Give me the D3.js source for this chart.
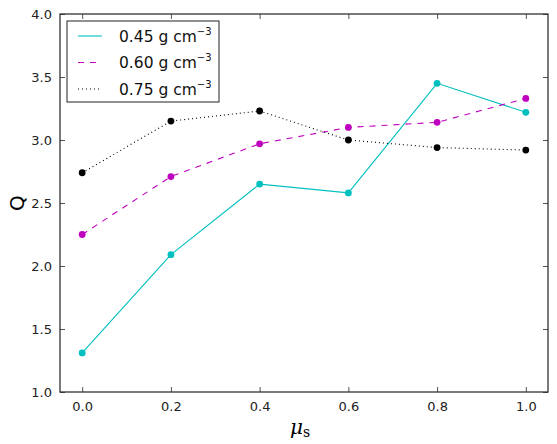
<!DOCTYPE html>
<html>
<head>
<meta charset="utf-8">
<script src="https://cdn.jsdelivr.net/npm/d3@7"></script>
<style>
  body { margin: 0; background: #fff; }
  text { font-family: "DejaVu Sans", sans-serif; }
</style>
</head>
<body>
<svg id="chart" width="557" height="444"></svg>
<script>
// data
const mu = [0.0, 0.2, 0.4, 0.6, 0.8, 1.0]
const q045 = [1.31, 2.09, 2.65, 2.58, 3.45, 3.22]
const q060 = [2.25, 2.71, 2.97, 3.10, 3.14, 3.33]
const q075 = [2.74, 3.15, 3.23, 3.00, 2.94, 2.92]
const xTicks = [0.0, 0.2, 0.4, 0.6, 0.8, 1.0]
const yTicks = [1.0, 1.5, 2.0, 2.5, 3.0, 3.5, 4.0]
const seriesNames = ["0.45", "0.60", "0.75"]

const series = [
  { name: seriesNames[0], values: q045, color: "#00bfbf", dash: null },
  { name: seriesNames[1], values: q060, color: "#bf00bf", dash: "6,6" },
  { name: seriesNames[2], values: q075, color: "#000000", dash: "1,3" }
]

const plotLeft = 60, plotRight = 548, plotTop = 14, plotBottom = 392

const svg = d3.select("#chart")

const x = d3.scaleLinear().domain([-0.05, 1.05]).range([plotLeft, plotRight])
const y = d3.scaleLinear().domain([1.0, 4.0]).range([plotBottom, plotTop])

// lines + markers
const line = d3.line()
  .x((d, i) => x(mu[i]))
  .y(d => y(d))

series.forEach(s => {
  svg.append("path")
     .datum(s.values)
     .attr("d", line)
     .attr("fill", "none")
     .attr("stroke", s.color)
     .attr("stroke-width", 1.1)
     .attr("stroke-dasharray", s.dash)

  svg.selectAll(null)
     .data(s.values)
     .enter()
     .append("circle")
     .attr("cx", (d, i) => x(mu[i]))
     .attr("cy", d => y(d))
     .attr("r", 3.4)
     .attr("fill", s.color)
})

// axes frame with inward ticks on all sides
const tickLen = 5
svg.append("g")
   .attr("transform", `translate(0,${plotBottom})`)
   .call(d3.axisBottom(x).tickValues(xTicks).tickFormat(d3.format(".1f")).tickSizeInner(-tickLen).tickSizeOuter(0).tickPadding(10))
svg.append("g")
   .attr("transform", `translate(0,${plotTop})`)
   .call(d3.axisTop(x).tickValues(xTicks).tickFormat("").tickSizeInner(-tickLen).tickSizeOuter(0))
svg.append("g")
   .attr("transform", `translate(${plotLeft},0)`)
   .call(d3.axisLeft(y).tickValues(yTicks).tickFormat(d3.format(".1f")).tickSizeInner(-tickLen).tickSizeOuter(0).tickPadding(8))
svg.append("g")
   .attr("transform", `translate(${plotRight},0)`)
   .call(d3.axisRight(y).tickValues(yTicks).tickFormat("").tickSizeInner(-tickLen).tickSizeOuter(0))

svg.selectAll(".tick text")
   .attr("font-size", 13)
   .attr("font-family", "DejaVu Sans, sans-serif")
   .attr("fill", "#222")
svg.selectAll(".domain").remove()
svg.selectAll(".tick line").attr("stroke", "#555")

svg.append("rect")
   .attr("x", plotLeft).attr("y", plotTop)
   .attr("width", plotRight - plotLeft).attr("height", plotBottom - plotTop)
   .attr("fill", "none")
   .attr("stroke", "#222")
   .attr("stroke-width", 1.2)

// axis labels
svg.append("text")
   .attr("transform", `translate(24,${(plotTop + plotBottom) / 2}) rotate(-90)`)
   .attr("text-anchor", "middle")
   .attr("font-size", 20)
   .text("Q")

const xl = svg.append("text")
   .attr("x", (plotLeft + plotRight) / 2 - 4)
   .attr("y", 434)
   .attr("text-anchor", "middle")
xl.append("tspan")
  .attr("font-family", "DejaVu Serif, serif")
  .attr("font-style", "italic")
  .attr("font-size", 20)
  .text("μ")
xl.append("tspan")
  .attr("font-family", "DejaVu Serif, serif")
  .attr("font-size", 14)
  .attr("dy", 3)
  .text("s")

// legend
const legend = svg.append("g")
legend.append("rect")
   .attr("x", 67).attr("y", 21)
   .attr("width", 152).attr("height", 81)
   .attr("fill", "#fff")
   .attr("stroke", "#222")
   .attr("stroke-width", 1)

series.forEach((s, i) => {
  const ly = 36 + i * 26.5
  legend.append("line")
     .attr("x1", 78).attr("x2", 102)
     .attr("y1", ly).attr("y2", ly)
     .attr("stroke", s.color)
     .attr("stroke-width", 1.1)
     .attr("stroke-dasharray", s.dash)
  const t = legend.append("text")
     .attr("x", 119).attr("y", ly + 5.5)
     .attr("font-size", 15.5)
     .attr("fill", "#111")
  t.append("tspan").text(s.name + " g cm")
  t.append("tspan").attr("font-size", 10).attr("dy", -7).text("−3")
})
</script>
</body>
</html>
